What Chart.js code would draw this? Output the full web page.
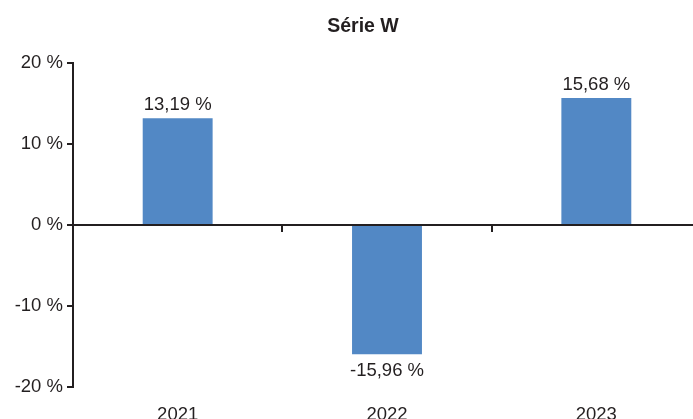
<!DOCTYPE html>
<html>
<head>
<meta charset="utf-8">
<script src="https://cdn.jsdelivr.net/npm/chart.js@4/dist/chart.umd.min.js"></script>
<style>
  html, body { margin: 0; padding: 0; background: #fff; overflow: hidden; }
  #wrap { width: 726px; height: 430px; }
</style>
</head>
<body>
<div id="wrap"><canvas id="chart" width="726" height="430"></canvas></div>
<script>
const years = ["2021", "2022", "2023"];
const returns = [13.19, -15.96, 15.68];
const yTicks = [-20, -10, 0, 10, 20];

const ink = "#231f20";
const barColor = "#5288c5";
const font = "'Liberation Sans', Arial, sans-serif";

const fmt = (v) => v.toFixed(2).replace(".", ",") + " %";

// value labels above / below each bar
const valueLabels = {
    id: "valueLabels",
    afterDatasetsDraw(chart) {
        const ctx = chart.ctx;
        const meta = chart.getDatasetMeta(0);
        ctx.save();
        ctx.font = "18.5px " + font;
        ctx.fillStyle = ink;
        ctx.textAlign = "center";
        ctx.textBaseline = "alphabetic";
        meta.data.forEach((bar, i) => {
            const v = returns[i];
            const y = v >= 0 ? bar.y - 8 : bar.y + 21.5;
            ctx.fillText(fmt(v), bar.x, y);
        });
        ctx.restore();
    }
};

const ctx = document.getElementById("chart").getContext("2d");
new Chart(ctx, {
    type: "bar",
    data: {
        labels: years,
        datasets: [{
            data: returns,
            backgroundColor: barColor,
            borderWidth: 0,
            categoryPercentage: 1,
            barPercentage: 0.334,
            xAxisID: "x",
            yAxisID: "y"
        }]
    },
    options: {
        responsive: false,
        animation: false,
        devicePixelRatio: 1,
        layout: { padding: 0 },
        plugins: {
            legend: { display: false },
            tooltip: { enabled: false },
            title: {
                display: true,
                text: "Série W",
                color: ink,
                font: { family: font, size: 19.5, weight: "bold", lineHeight: 1.2 },
                padding: { top: 15, bottom: 24.6 }
            }
        },
        scales: {
            x: {
                type: "category",
                position: "bottom",
                offset: true,
                grid: { display: false },
                border: { display: false },
                ticks: {
                    color: ink,
                    padding: 9,
                    font: { family: font, size: 18.5 }
                },
                afterFit(scale) { scale.height = 43; }
            },
            // zero line with tick marks between the years
            x2: {
                type: "category",
                axis: "x",
                position: { y: 0 },
                offset: true,
                grid: {
                    offset: true,
                    drawOnChartArea: false,
                    drawTicks: true,
                    tickLength: 6,
                    color: ink,
                    lineWidth: 2
                },
                border: { display: true, color: ink, width: 2 },
                ticks: { display: false }
            },
            y: {
                position: "left",
                min: -20,
                max: 20,
                afterBuildTicks(scale) {
                    scale.ticks = yTicks.map(v => ({ value: v }));
                },
                grid: {
                    drawOnChartArea: false,
                    drawTicks: true,
                    tickLength: 6,
                    color: ink,
                    lineWidth: 2
                },
                border: { display: true, color: ink, width: 2 },
                ticks: {
                    color: ink,
                    padding: 4,
                    font: { family: font, size: 18.5 },
                    callback: (v) => v + " %"
                },
                afterFit(scale) { scale.width = 73; }
            },
            // empty right-hand spacer
            yR: {
                position: "right",
                grid: { display: false },
                border: { display: false },
                ticks: { display: false },
                afterFit(scale) { scale.width = 25; }
            }
        }
    },
    plugins: [valueLabels]
});
</script>
</body>
</html>
